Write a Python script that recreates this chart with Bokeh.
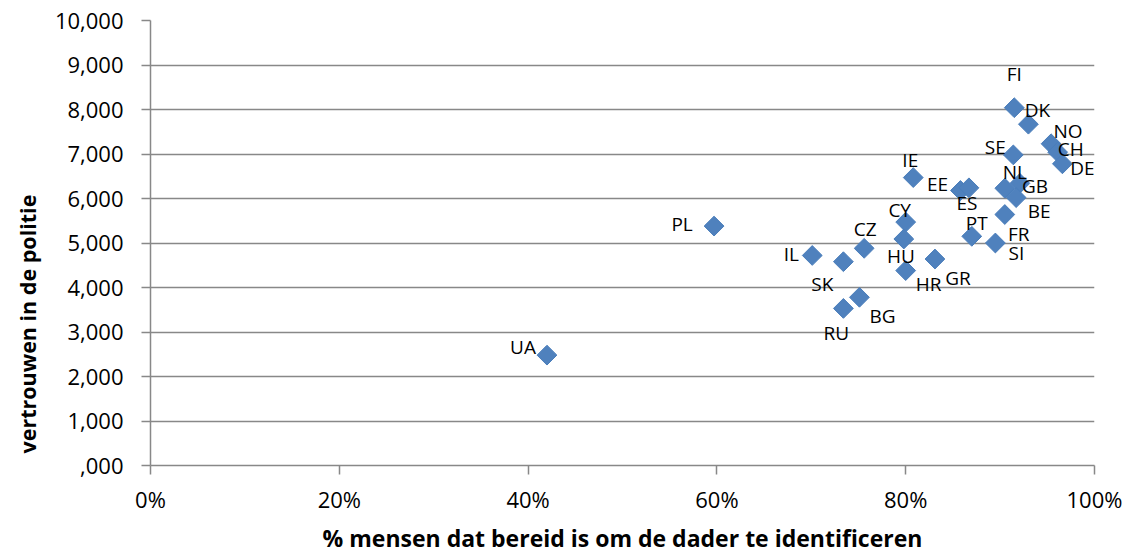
from bokeh.plotting import figure
from bokeh.models import ColumnDataSource, Range1d, FixedTicker, NumeralTickFormatter, Title
from bokeh.core.properties import value
from bokeh.embed import file_html
from bokeh.resources import INLINE
import math

# ---- data ----
countries = ["UA", "PL", "IL", "SK", "RU", "BG", "CZ", "CY", "HU", "HR", "IE", "GR", "EE",
             "ES", "PT", "SI", "NL", "FR", "GB", "BE", "SE", "FI", "DK", "NO", "CH", "DE"]
pct_identify = [0.420, 0.597, 0.701, 0.734, 0.734, 0.751, 0.756, 0.800, 0.798, 0.800, 0.808, 0.831, 0.858,
                0.867, 0.870, 0.895, 0.905, 0.905, 0.921, 0.917, 0.914, 0.915, 0.930, 0.954, 0.961, 0.966]
trust_police = [2480, 5380, 4720, 4580, 3530, 3780, 4880, 5470, 5090, 4380, 6470, 4640, 6180,
                6240, 5150, 5000, 6230, 5640, 6340, 6020, 6980, 8040, 7670, 7230, 7040, 6780]
x_ticks = [0, 0.2, 0.4, 0.6, 0.8, 1.0]
y_ticks = [0, 1000, 2000, 3000, 4000, 5000, 6000, 7000, 8000, 9000, 10000]
y_tick_labels = [",000", "1,000", "2,000", "3,000", "4,000", "5,000", "6,000", "7,000", "8,000", "9,000", "10,000"]
x_title = "% mensen dat bereid is om de dader te identificeren"
y_title = "vertrouwen in de politie"

# ---- label placement (screen px, relative to marker) ----
label_offsets = {
    "UA": (-24, -8), "PL": (-32, -2), "IL": (-21, -1), "SK": (-21, 22), "RU": (-7, 25),
    "BG": (23, 19), "CZ": (1, -19), "CY": (-6, -12), "HU": (-3, 17), "HR": (23, 13),
    "IE": (-3, -18), "GR": (23, 19), "EE": (-23, -6), "ES": (-2, 15), "PT": (5, -13),
    "SI": (21, 10), "NL": (10, -16), "FR": (14, 19), "GB": (15, 3), "BE": (23, 13),
    "SE": (-18, -8), "FI": (0, -34), "DK": (9, -14), "NO": (17, -13), "CH": (13, -3),
    "DE": (20, 4),
}

FONT = "Open Sans"
GRID = "#888888"
BLUE = "#4F81BD"

src = ColumnDataSource(dict(
    x=pct_identify, y=trust_police, label=countries,
    dx=[label_offsets[c][0] for c in countries],
    dy=[label_offsets[c][1] for c in countries],
))

p = figure(frame_width=944, frame_height=445, output_backend="svg", toolbar_location=None,
           x_range=Range1d(0, 1), y_range=Range1d(0, 10000),
           min_border_left=150, min_border_right=38, min_border_top=20, min_border_bottom=89)
p.outline_line_color = None
p.background_fill_color = "white"
p.border_fill_color = "white"

p.xgrid.grid_line_color = None
p.ygrid.grid_line_color = GRID
p.ygrid.grid_line_width = 1.5

p.xaxis.ticker = FixedTicker(ticks=x_ticks)
p.xaxis.formatter = NumeralTickFormatter(format="0%")
p.yaxis.ticker = FixedTicker(ticks=y_ticks)
p.yaxis.major_label_overrides = {t: l for t, l in zip(y_ticks, y_tick_labels)}

for ax in (p.xaxis[0], p.yaxis[0]):
    ax.axis_line_color = GRID
    ax.axis_line_width = 1.5
    ax.major_tick_line_color = GRID
    ax.major_tick_line_width = 1.5
    ax.major_tick_in = 0
    ax.major_tick_out = 9
    ax.minor_tick_line_color = None
    ax.major_label_text_font = FONT
    ax.major_label_text_font_size = "22px"
    ax.major_label_text_color = "black"
    ax.axis_label_text_font = FONT
    ax.axis_label_text_font_style = "bold"
    ax.axis_label_text_font_size = "23px"
    ax.axis_label_text_color = "black"

p.xaxis.major_label_standoff = 9
p.yaxis.major_label_standoff = 18
p.xaxis.axis_label = x_title
p.xaxis.axis_label_standoff = 5

# y title starts near the bottom of the axis in the reference
p.add_layout(Title(text=y_title, align="left", offset=12, standoff=19,
                   text_font=FONT, text_font_style="bold", text_font_size="21.5px",
                   text_color="black"), "left")

p.scatter("x", "y", source=src, marker="square", size=14, angle=math.pi / 4,
          fill_color=BLUE, line_color="#4A7EBB", line_width=1)

p.text("x", "y", text="label", source=src, x_offset="dx", y_offset="dy",
       text_align="center", text_baseline="middle",
       text_font=value(FONT), text_font_size="19px", text_color="black")

open("out.html", "w").write(file_html(p, INLINE))
